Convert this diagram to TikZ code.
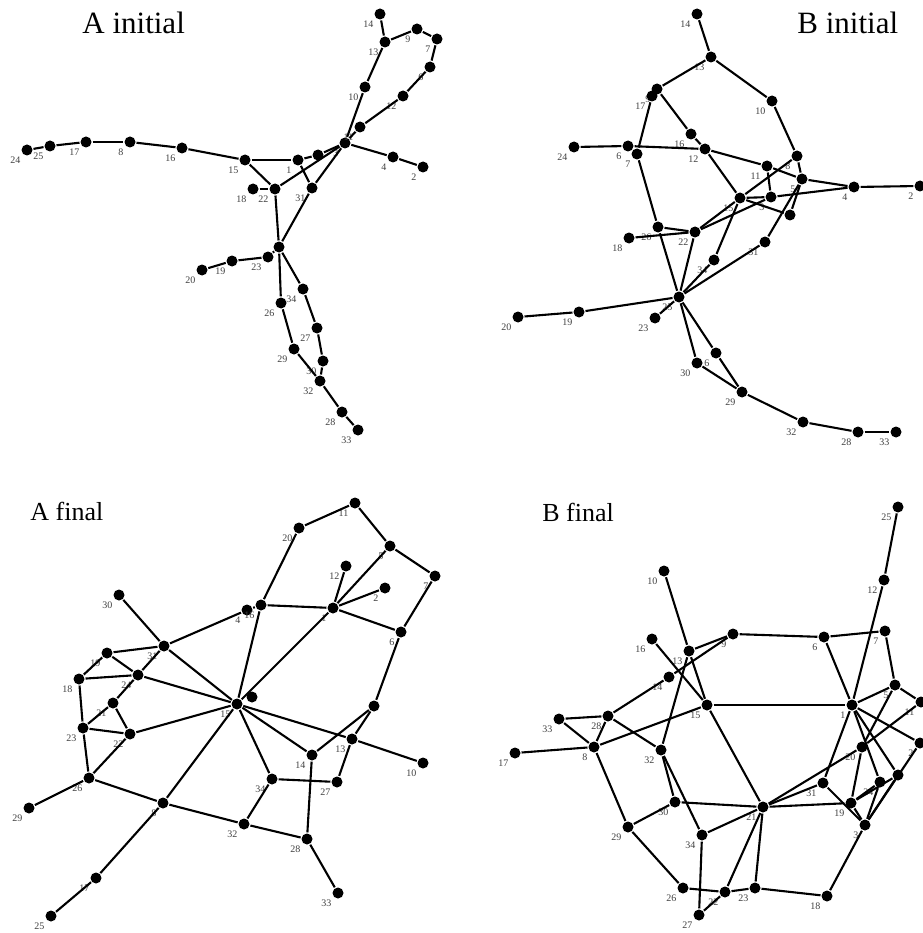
\documentclass[tikz,border=0pt]{standalone}
\usepackage{fontspec}
\setmainfont{Liberation Serif}
\usetikzlibrary{positioning}

\begin{document}
\begin{tikzpicture}[
    x=1pt, y=-1pt,
    dot/.style={circle, fill=black, inner sep=0pt, minimum size=11pt},
    lbl/.style={font=\fontsize{10}{10}\selectfont, text=black!75, inner sep=1pt},
    num/.style={label={[lbl, label distance=0pt]225:#1}},
    title/.style={font=\fontsize{26}{26}\selectfont, anchor=base west},
    every path/.style={line width=2.1pt}
]
    \useasboundingbox (0,0) rectangle (922,933);

    % titles
    \node[title, font=\fontsize{31}{31}\selectfont] (tai) at (78,34) {A initial};
    \node[title, font=\fontsize{31}{31}\selectfont] (tbi) at (793,34) {B initial};
    \node[title] (taf) at (26,520) {A final};
    \node[title] (tbf) at (538,521) {B final};

    % ---- A initial ----
    \node[dot, num=24] (ai24) at (27,150) {};
    \node[dot, num=25] (ai25) at (50,146) {};
    \node[dot, num=17] (ai17) at (86,142) {};
    \node[dot, num=8]  (ai8)  at (130,142) {};
    \node[dot, num=16] (ai16) at (182,148) {};
    \node[dot, num=15] (ai15) at (245,160) {};
    \node[dot, num=1]  (ai1)  at (298,160) {};
    \node[dot]         (ai5)  at (318,155) {};
    \node[dot, num=3]  (ai3)  at (345,143) {};
    \node[dot, num=11] (ai11) at (360,127) {};
    \node[dot, num=12] (ai12) at (403,96) {};
    \node[dot, num=6]  (ai6)  at (430,67) {};
    \node[dot, num=7]  (ai7)  at (437,39) {};
    \node[dot, num=9]  (ai9)  at (417,29) {};
    \node[dot, num=13] (ai13) at (385,42) {};
    \node[dot, num=14] (ai14) at (380,14) {};
    \node[dot, num=10] (ai10) at (365,87) {};
    \node[dot, num=4]  (ai4)  at (393,157) {};
    \node[dot, num=2]  (ai2)  at (423,167) {};
    \node[dot, num=22] (ai22) at (275,189) {};
    \node[dot, num=18] (ai18) at (253,189) {};
    \node[dot, num=31] (ai31) at (312,188) {};
    \node[dot]         (ai21) at (279,247) {};
    \node[dot, num=23] (ai23) at (268,257) {};
    \node[dot, num=19] (ai19) at (232,261) {};
    \node[dot, num=20] (ai20) at (202,270) {};
    \node[dot, num=26] (ai26) at (281,303) {};
    \node[dot, num=34] (ai34) at (303,289) {};
    \node[dot, num=27] (ai27) at (317,328) {};
    \node[dot, num=30] (ai30) at (323,361) {};
    \node[dot, num=29] (ai29) at (294,349) {};
    \node[dot, num=32] (ai32) at (320,381) {};
    \node[dot, num=28] (ai28) at (342,412) {};
    \node[dot, num=33] (ai33) at (358,430) {};

    \foreach \a/\b in {ai24/ai25, ai25/ai17, ai17/ai8, ai8/ai16, ai16/ai15, ai15/ai1,
        ai15/ai22, ai18/ai22, ai1/ai5, ai5/ai3, ai1/ai31, ai22/ai3, ai31/ai3,
        ai3/ai11, ai11/ai12, ai12/ai6, ai6/ai7, ai7/ai9, ai9/ai13, ai13/ai14,
        ai13/ai10, ai10/ai3, ai3/ai4, ai4/ai2, ai22/ai21, ai31/ai21, ai21/ai23,
        ai23/ai19, ai19/ai20, ai21/ai26, ai21/ai34, ai34/ai27, ai27/ai30,
        ai30/ai32, ai26/ai29, ai29/ai32, ai32/ai28, ai28/ai33}
        \draw (\a) -- (\b);

    % ---- B initial ----
    \node[dot, num=14] (bi14) at (697,14) {};
    \node[dot, num=13] (bi13) at (711,57) {};
    \node[dot, num=10] (bi10) at (772,101) {};
    \node[dot, num=9]  (bi9)  at (657,89) {};
    \node[dot, num=17] (bi17) at (652,96) {};
    \node[dot, num=16] (bi16) at (691,134) {};
    \node[dot, num=12] (bi12) at (705,149) {};
    \node[dot, num=6]  (bi6)  at (628,146) {};
    \node[dot, num=7]  (bi7)  at (637,154) {};
    \node[dot, num=24] (bi24) at (574,147) {};
    \node[dot, num=11] (bi11) at (767,166) {};
    \node[dot, num=8]  (bi8)  at (797,156) {};
    \node[dot, num=5]  (bi5)  at (802,179) {};
    \node[dot, num=4]  (bi4)  at (854,187) {};
    \node[dot, num=2]  (bi2)  at (920,186) {};
    \node[dot, num=15] (bi15) at (740,198) {};
    \node[dot, num=3]  (bi3)  at (771,197) {};
    \node[dot]         (bi1)  at (790,215) {};
    \node[dot, num=22] (bi22) at (695,232) {};
    \node[dot, num=26] (bi26) at (658,227) {};
    \node[dot, num=18] (bi18) at (629,238) {};
    \node[dot, num=34] (bi34) at (714,260) {};
    \node[dot, num=31] (bi31) at (765,242) {};
    \node[dot, num=25] (bi25) at (679,297) {};
    \node[dot, num=19] (bi19) at (579,312) {};
    \node[dot, num=20] (bi20) at (518,317) {};
    \node[dot, num=23] (bi23) at (655,318) {};
    \node[dot, num=6]  (bi27) at (716,353) {};
    \node[dot, num=30] (bi30) at (697,363) {};
    \node[dot, num=29] (bi29) at (742,392) {};
    \node[dot, num=32] (bi32) at (803,422) {};
    \node[dot, num=28] (bi28) at (858,432) {};
    \node[dot, num=33] (bi33) at (896,432) {};

    \foreach \a/\b in {bi14/bi13, bi13/bi9, bi13/bi10, bi10/bi8, bi9/bi16, bi16/bi12,
        bi17/bi7, bi24/bi6, bi6/bi12, bi7/bi26, bi26/bi25, bi26/bi22, bi18/bi22,
        bi22/bi25, bi22/bi15, bi22/bi3, bi12/bi15, bi12/bi11, bi11/bi5, bi11/bi3,
        bi15/bi8, bi15/bi3, bi3/bi4, bi5/bi4, bi4/bi2, bi8/bi5, bi5/bi1, bi5/bi31,
        bi15/bi1, bi15/bi34, bi34/bi25, bi31/bi25, bi25/bi19, bi19/bi20,
        bi25/bi23, bi25/bi30, bi25/bi27, bi30/bi29, bi27/bi29, bi29/bi32,
        bi32/bi28, bi28/bi33}
        \draw (\a) -- (\b);

    % ---- A final ----
    \node[dot, num=30] (af30) at (119,595) {};
    \node[dot, num=31] (af31) at (164,646) {};
    \node[dot, num=19] (af19) at (107,653) {};
    \node[dot, num=18] (af18) at (79,679) {};
    \node[dot, num=24] (af24) at (138,675) {};
    \node[dot, num=21] (af21) at (113,703) {};
    \node[dot, num=23] (af23) at (83,728) {};
    \node[dot, num=22] (af22) at (130,734) {};
    \node[dot, num=15] (af15) at (237,704) {};
    \node[dot, num=4]  (af4)  at (247,610) {};
    \node[dot, num=16] (af16) at (261,605) {};
    \node[dot, num=20] (af20) at (299,528) {};
    \node[dot, num=11] (af11) at (355,503) {};
    \node[dot, num=5]  (af5)  at (390,546) {};
    \node[dot, num=7]  (af7)  at (435,576) {};
    \node[dot, num=12] (af12) at (346,566) {};
    \node[dot, num=2]  (af2)  at (385,588) {};
    \node[dot, num=1]  (af1)  at (333,608) {};
    \node[dot, num=6]  (af6)  at (401,632) {};
    \node[dot]         (af9)  at (374,706) {};
    \node[dot]         (af3)  at (252,697) {};
    \node[dot, num=13] (af13) at (352,739) {};
    \node[dot, num=14] (af14) at (312,755) {};
    \node[dot, num=26] (af26) at (89,778) {};
    \node[dot, num=29] (af29) at (29,808) {};
    \node[dot, num=8]  (af8)  at (163,803) {};
    \node[dot, num=17] (af17) at (96,878) {};
    \node[dot, num=25] (af25) at (51,916) {};
    \node[dot, num=32] (af32) at (244,824) {};
    \node[dot, num=34] (af34) at (272,779) {};
    \node[dot, num=27] (af27) at (337,782) {};
    \node[dot, num=10] (af10) at (423,763) {};
    \node[dot, num=28] (af28) at (307,839) {};
    \node[dot, num=33] (af33) at (338,893) {};

    \foreach \a/\b in {af30/af31, af31/af4, af4/af16, af16/af1, af16/af20, af20/af11,
        af11/af5, af5/af7, af7/af6, af6/af1, af1/af5, af1/af12, af1/af2, af1/af15,
        af16/af15, af6/af9, af9/af14, af9/af13, af15/af13, af13/af10, af15/af14,
        af15/af34, af15/af8, af15/af22, af15/af24, af15/af31, af13/af27,
        af14/af28, af34/af27, af34/af32, af32/af28, af28/af33, af8/af32,
        af26/af8, af8/af17, af17/af25, af26/af29, af26/af22, af23/af26,
        af23/af22, af23/af21, af21/af22, af21/af24, af24/af31, af18/af23,
        af18/af24, af18/af19, af19/af31, af19/af24}
        \draw (\a) -- (\b);

    % ---- B final ----
    \node[dot, num=25] (bf25) at (898,507) {};
    \node[dot, num=12] (bf12) at (884,580) {};
    \node[dot, num=10] (bf10) at (664,571) {};
    \node[dot, num=16] (bf16) at (652,639) {};
    \node[dot, num=13] (bf13) at (689,651) {};
    \node[dot, num=9]  (bf9)  at (733,634) {};
    \node[dot, num=6]  (bf6)  at (824,637) {};
    \node[dot, num=7]  (bf7)  at (885,631) {};
    \node[dot, num=14] (bf14) at (669,677) {};
    \node[dot, num=15] (bf15) at (707,705) {};
    \node[dot, num=1]  (bf1)  at (852,705) {};
    \node[dot, num=5]  (bf5)  at (895,685) {};
    \node[dot, num=11] (bf11) at (921,702) {};
    \node[dot, num=33] (bf33) at (559,719) {};
    \node[dot, num=28] (bf28) at (608,716) {};
    \node[dot, num=17] (bf17) at (515,753) {};
    \node[dot, num=8]  (bf8)  at (594,747) {};
    \node[dot, num=32] (bf32) at (661,750) {};
    \node[dot, num=30] (bf30) at (675,802) {};
    \node[dot, num=29] (bf29) at (628,827) {};
    \node[dot, num=21] (bf21) at (763,807) {};
    \node[dot, num=31] (bf31) at (823,783) {};
    \node[dot, num=19] (bf19) at (851,803) {};
    \node[dot, num=3]  (bf3)  at (865,825) {};
    \node[dot, num=20] (bf20) at (862,747) {};
    \node[dot, num=24] (bf24) at (880,782) {};
    \node[dot]         (bf4)  at (898,775) {};
    \node[dot, num=2]  (bf2)  at (920,743) {};
    \node[dot, num=34] (bf34) at (702,835) {};
    \node[dot, num=26] (bf26) at (683,888) {};
    \node[dot, num=22] (bf22) at (725,892) {};
    \node[dot, num=23] (bf23) at (755,888) {};
    \node[dot, num=18] (bf18) at (827,896) {};
    \node[dot, num=27] (bf27) at (699,915) {};

    \foreach \a/\b in {bf25/bf12, bf12/bf1, bf10/bf13, bf13/bf15, bf13/bf9, bf9/bf6,
        bf6/bf7, bf7/bf5, bf6/bf1, bf16/bf15, bf14/bf9, bf14/bf28, bf15/bf1,
        bf15/bf8, bf13/bf32, bf15/bf21, bf33/bf28, bf33/bf8, bf28/bf8, bf17/bf8,
        bf28/bf32, bf32/bf30, bf32/bf34, bf8/bf29, bf29/bf30, bf29/bf26,
        bf30/bf21, bf34/bf21, bf34/bf27, bf21/bf22, bf21/bf23, bf21/bf31,
        bf21/bf20, bf20/bf11, bf1/bf31, bf1/bf5, bf1/bf2, bf1/bf4, bf1/bf24,
        bf5/bf20, bf5/bf11, bf20/bf19, bf31/bf3, bf19/bf24, bf24/bf3, bf4/bf3,
        bf2/bf3, bf19/bf4, bf21/bf19, bf19/bf3, bf3/bf18, bf18/bf23, bf23/bf22,
        bf22/bf26, bf22/bf27}
        \draw (\a) -- (\b);
\end{tikzpicture}
\end{document}
